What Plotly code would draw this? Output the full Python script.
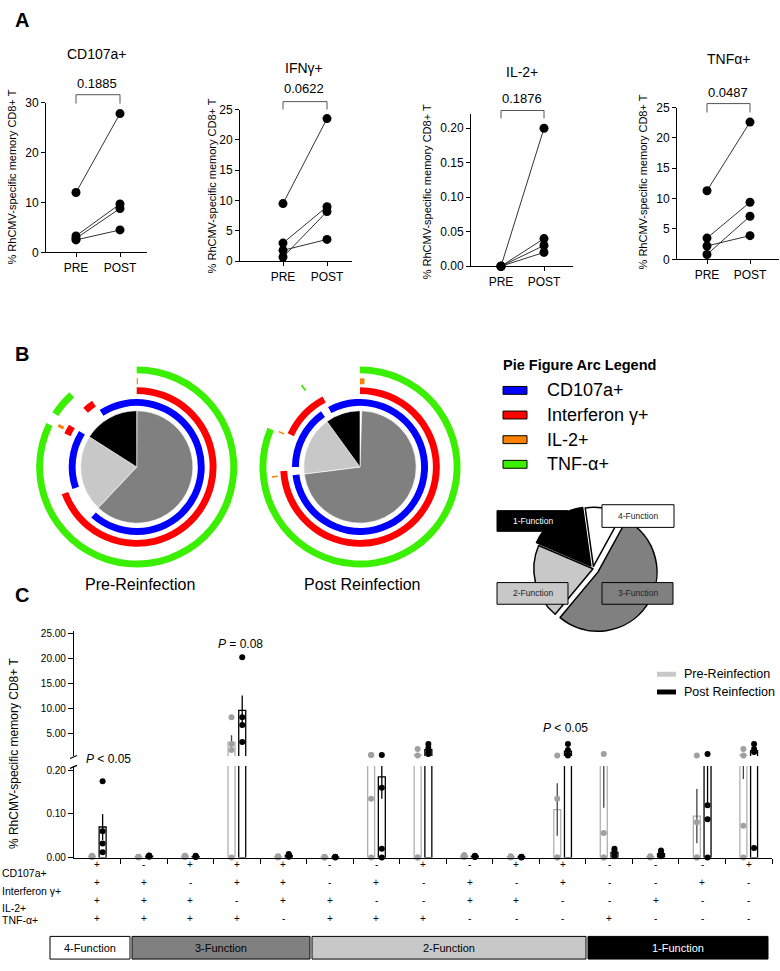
import plotly.graph_objects as go

W, H = 780, 971
FONT = "Arial, Liberation Sans, Helvetica, sans-serif"


def fx(x):
    return x / W


def fy(y):
    return 1 - y / H


# ---------------- Panel A data ----------------
a_titles = ["CD107a+", "IFNγ+", "IL-2+", "TNFα+"]
a_pvals = ["0.1885", "0.0622", "0.1876", "0.0487"]
a_xlabels = ["PRE", "POST"]
cd107a_pre = [12.0, 3.3, 2.8, 2.5]
cd107a_post = [27.8, 9.7, 8.8, 4.5]
ifng_pre = [9.5, 3.0, 0.7, 1.8]
ifng_post = [23.5, 9.0, 8.2, 3.6]
il2_pre = [0.0, 0.0, 0.0, 0.0]
il2_post = [0.20, 0.04, 0.03, 0.02]
tnfa_pre = [11.3, 3.5, 0.8, 2.2]
tnfa_post = [22.6, 9.4, 7.1, 3.9]
a_yticks = [[0, 10, 20, 30], [0, 5, 10, 15, 20, 25],
            [0, 0.05, 0.10, 0.15, 0.20], [0, 5, 10, 15, 20, 25]]
a_yranges = [[0, 30], [0, 25], [0, 0.22], [0, 25]]
a_ytitle = "% RhCMV-specific memory CD8+ T"

# ---------------- Panel B data ----------------
pie_slices = ["4-Function", "3-Function", "2-Function", "1-Function"]
pre_pie_pct = [0.1, 62, 22, 16]
post_pie_pct = [0.5, 72.5, 17, 10]
arc_markers = ["CD107a+", "Interferon γ+", "IL-2+", "TNF-α+"]
# arc segments (start, end) in degrees clockwise from 12 o'clock
pre_arcs = {
    "CD107a+": [(327, 582), (251, 302)],
    "Interferon γ+": [(0, 250), (295, 302), (318, 326)],
    "IL-2+": [(0, 0.8), (297, 299)],
    "TNF-α+": [(0, 296), (303, 318)],
}
post_arcs = {
    "CD107a+": [(332, 623), (270, 325)],
    "Interferon γ+": [(0, 267), (295, 332)],
    "IL-2+": [(0, 3), (263, 264), (293, 294)],
    "TNF-α+": [(0, 293), (324, 325)],
}
inset_labels = ["4-Function", "3-Function", "2-Function", "1-Function"]
inset_values = [10, 52, 20, 16]

# ---------------- Panel C data ----------------
c_cd107a = ['+', '-', '+', '+', '+', '-', '-', '+', '-', '+', '+', '-', '-', '-', '+']
c_ifng = ['+', '+', '-', '+', '+', '-', '+', '-', '+', '-', '+', '-', '-', '+', '-']
c_il2 = ['+', '+', '+', '-', '+', '+', '-', '-', '+', '+', '-', '-', '+', '-', '-']
c_tnfa = ['+', '+', '+', '+', '-', '+', '+', '+', '-', '-', '-', '+', '-', '-', '-']
c_rows = ["CD107a+", "Interferon γ+", "IL-2+", "TNF-α+"]
c_pre_mean = [0.003, 0.001, 0.003, 3.15, 0.002, 0.001, 0.33, 0.58, 0.004, 0.002,
              0.11, 0.214, 0.002, 0.095, 0.59]
c_pre_sem = [0.001, 0.0005, 0.001, 1.4, 0.001, 0.0005, 0.1, 0.3, 0.001, 0.001,
             0.06, 0.1, 0.001, 0.062, 0.41]
c_post_mean = [0.07, 0.003, 0.002, 9.55, 0.005, 0.001, 0.185, 1.7, 0.003, 0.001,
               1.4, 0.012, 0.009, 0.25, 1.46]
c_post_sem = [0.03, 0.001, 0.001, 3.0, 0.001, 0.0005, 0.05, 0.45, 0.001, 0.0005,
              0.55, 0.004, 0.003, 0.13, 0.6]
c_pre_pts = [
    [0.004, 0.003, 0.002, 0.001],
    [0.002, 0.001, 0.001, 0.0],
    [0.004, 0.003, 0.002, 0.001],
    [8.2, 2.8, 1.6, 0.0],
    [0.003, 0.002, 0.001, 0.0],
    [0.002, 0.001, 0.0, 0.0],
    [0.6, 0.6, 0.135, 0.0],
    [1.8, 0.5, 0.0, 0.0],
    [0.006, 0.004, 0.002, 0.001],
    [0.003, 0.002, 0.001, 0.0],
    [0.5, 0.135, 0.0, 0.0],
    [0.8, 0.056, 0.0, 0.0],
    [0.003, 0.002, 0.001, 0.0],
    [0.5, 0.081, 0.0, 0.0],
    [1.8, 0.5, 0.073, 0.0],
]
c_post_pts = [
    [0.175, 0.06, 0.032, 0.012],
    [0.005, 0.004, 0.003, 0.002],
    [0.004, 0.003, 0.002, 0.001],
    [20.2, 8.2, 6.6, 3.2],
    [0.008, 0.006, 0.004, 0.002],
    [0.002, 0.001, 0.001, 0.0],
    [0.6, 0.16, 0.02, 0.0],
    [2.8, 2.0, 1.2, 0.8],
    [0.004, 0.003, 0.002, 0.001],
    [0.002, 0.001, 0.001, 0.0],
    [2.8, 1.6, 0.8, 0.5],
    [0.02, 0.015, 0.01, 0.003],
    [0.016, 0.01, 0.006, 0.003],
    [0.8, 0.12, 0.088, 0.0],
    [2.8, 1.8, 1.2, 0.022],
]
c_upper_ticks = [5, 10, 15, 20, 25]
c_lower_ticks = [0, 0.1, 0.2]
c_groups = ["4-Function", "3-Function", "2-Function", "1-Function"]
c_pvals = ["<i>P</i> < 0.05", "<i>P</i> = 0.08", "<i>P</i> < 0.05"]

# ---------------- style constants ----------------
BLUE, RED, ORANGE, GREEN = "#0000ff", "#ff0000", "#ff8000", "#3af000"
arc_colors = {"CD107a+": BLUE, "Interferon γ+": RED, "IL-2+": ORANGE, "TNF-α+": GREEN}
arc_radii = {"CD107a+": (62, 69), "Interferon γ+": (74, 81), "IL-2+": (84, 90), "TNF-α+": (95, 102)}
slice_colors = {"4-Function": "#ffffff", "3-Function": "#808080", "2-Function": "#c8c8c8", "1-Function": "#000000"}
PIE_R = 57

fig = go.Figure()
annotations = []
shapes = []


def ann(text, x, y, size, color="black", xanchor="center", yanchor="middle", **kw):
    return dict(text=text, x=fx(x), y=fy(y), xref="paper", yref="paper", showarrow=False,
                font=dict(size=size, family=FONT, color=color), xanchor=xanchor,
                yanchor=yanchor, **kw)


# ---------------- Panel A ----------------
a_pre = [cd107a_pre, ifng_pre, il2_pre, tnfa_pre]
a_post = [cd107a_post, ifng_post, il2_post, tnfa_post]
a_geom = [
    dict(xd=(46, 147), yd=(97, 249), pre=76, post=120, tx=97, ty=48, py_=78, br=(89, 98), yt=(12, 173)),
    dict(xd=(240, 352), yd=(104, 258), pre=283, post=327, tx=304, ty=62, py_=83, br=(96, 104), yt=(212, 181)),
    dict(xd=(471, 573), yd=(109, 263), pre=501, post=544, tx=522, ty=66, py_=93, br=(105, 113), yt=(427, 188)),
    dict(xd=(677, 779), yd=(102, 256), pre=707, post=750, tx=728, ty=53, py_=87, br=(98, 107), yt=(643, 178)),
]
for i in range(4):
    g = a_geom[i]
    xa = "x" if i == 0 else f"x{i+1}"
    ya = "y" if i == 0 else f"y{i+1}"
    for pv, po in zip(a_pre[i], a_post[i]):
        fig.add_trace(go.Scatter(x=[0, 1], y=[pv, po], mode="lines+markers",
                                 line=dict(color="#333333", width=1),
                                 marker=dict(color="black", size=9),
                                 xaxis=xa, yaxis=ya, cliponaxis=False,
                                 showlegend=False, hoverinfo="skip"))
    unit = g["post"] - g["pre"]
    r0 = -(g["pre"] - g["xd"][0]) / unit
    r1 = r0 + (g["xd"][1] - g["xd"][0]) / unit
    key = "" if i == 0 else str(i + 1)
    fig.layout["xaxis" + key] = dict(domain=[fx(g["xd"][0]), fx(g["xd"][1])], range=[r0, r1],
                                     anchor=ya, showline=True, linecolor="black", linewidth=1,
                                     ticks="outside", ticklen=4, tickcolor="black",
                                     tickvals=[0, 1], ticktext=a_xlabels,
                                     tickfont=dict(size=12), showgrid=False, zeroline=False)
    fig.layout["yaxis" + key] = dict(domain=[fy(g["yd"][1]), fy(g["yd"][0])], range=a_yranges[i],
                                     anchor=xa, showline=True, linecolor="black", linewidth=1,
                                     ticks="outside", ticklen=4, tickcolor="black",
                                     tickvals=a_yticks[i],
                                     tickformat=".2f" if i == 2 else "d",
                                     tickfont=dict(size=12), showgrid=False, zeroline=False)
    annotations.append(ann(a_titles[i], g["tx"], g["ty"], 14))
    annotations.append(ann(a_pvals[i], g["tx"], g["py_"], 13))
    annotations.append(ann(a_ytitle, g["yt"][0], g["yt"][1], 11, textangle=-90))
    top, bot = fy(g["br"][0]), fy(g["br"][1])
    shapes.append(dict(type="path", xref=xa, yref="paper",
                       path=f"M 0 {bot} L 0 {top} L 1 {top} L 1 {bot}",
                       line=dict(color="#555555", width=1)))

annotations.append(ann("<b>A</b>", 22, 13, 20))

# ---------------- Panel B ----------------
def pie_traces(pcts, arcs, subplot):
    out = []
    total = sum(pcts)
    start = 0.0
    th, wd, cols = [], [], []
    for name, p in zip(pie_slices, pcts):
        span = p / total * 360
        th.append(start + span / 2)
        wd.append(span)
        cols.append(slice_colors[name])
        start += span
    out.append(go.Barpolar(theta=th, width=wd, r=[PIE_R] * len(th), base=[0] * len(th),
                           marker=dict(color=cols, line=dict(color="white", width=0.6)),
                           subplot=subplot, showlegend=False, hoverinfo="skip"))
    for m in arc_markers:
        segs = arcs[m]
        rin, rout = arc_radii[m]
        out.append(go.Barpolar(theta=[((a + b) / 2) % 360 for a, b in segs],
                               width=[b - a for a, b in segs],
                               r=[rout - rin] * len(segs), base=[rin] * len(segs),
                               marker=dict(color=arc_colors[m], line=dict(width=0)),
                               subplot=subplot, showlegend=False, hoverinfo="skip"))
    return out


for t in pie_traces(pre_pie_pct, pre_arcs, "polar"):
    fig.add_trace(t)
for t in pie_traces(post_pie_pct, post_arcs, "polar2"):
    fig.add_trace(t)

RMAX = 104
for key, cx, cy in [("polar", 136.7, 466.7), ("polar2", 360, 466.7)]:
    fig.layout[key] = dict(domain=dict(x=[fx(cx - RMAX), fx(cx + RMAX)], y=[fy(cy + RMAX), fy(cy - RMAX)]),
                           bgcolor="rgba(0,0,0,0)", bargap=0, barmode="overlay",
                           radialaxis=dict(visible=False, range=[0, RMAX]),
                           angularaxis=dict(visible=False, direction="clockwise", rotation=90))

annotations.append(ann("<b>B</b>", 22, 352, 20))
annotations.append(ann("Pre-Reinfection", 140, 586, 16))
annotations.append(ann("Post Reinfection", 362, 586, 16))

# arc legend
annotations.append(ann("<b>Pie Figure Arc Legend</b>", 501, 363, 14.5, xanchor="left"))
for k, m in enumerate(arc_markers):
    yy = 389 + k * 25
    shapes.append(dict(type="rect", xref="paper", yref="paper", x0=fx(503), x1=fx(527),
                       y0=fy(yy + 4), y1=fy(yy - 4), fillcolor=arc_colors[m],
                       line=dict(color="black", width=1)))
    annotations.append(ann(m, 545, yy, 18, xanchor="left"))

# inset pie
fig.add_trace(go.Pie(values=inset_values, labels=inset_labels, sort=False, direction="clockwise",
                     rotation=-8, pull=[0.04, 0.1, 0, 0.06],
                     marker=dict(colors=[slice_colors[n] for n in inset_labels],
                                 line=dict(color="black", width=1.5)),
                     textinfo="none", hoverinfo="skip", showlegend=False,
                     domain=dict(x=[fx(527), fx(659)], y=[fy(636), fy(504)])))
inset_boxes = {"1-Function": (497, 568, 511, 532), "4-Function": (602, 674, 505, 528),
               "2-Function": (497, 568, 584, 606), "3-Function": (602, 673, 584, 606)}
for n in inset_labels:
    x0, x1, y0, y1 = inset_boxes[n]
    shapes.append(dict(type="rect", xref="paper", yref="paper", x0=fx(x0), x1=fx(x1),
                       y0=fy(y1), y1=fy(y0), fillcolor=slice_colors[n],
                       line=dict(color="black", width=1)))
    annotations.append(ann(n, (x0 + x1) / 2, (y0 + y1) / 2, 8.5,
                           color="white" if n == "1-Function" else "#222222"))

# ---------------- Panel C ----------------
ncat = len(c_cd107a)
idx = list(range(ncat))
OFF, BW = 0.115, 0.15
for xa, ya, lo, hi in [("x5", "y5", -1, 0.21), ("x6", "y6", 0.4, 1e9)]:
    fig.add_trace(go.Bar(x=[i - OFF for i in idx], y=c_pre_mean, width=BW,
                         marker=dict(color="rgba(0,0,0,0)", line=dict(color="#b0b0b0", width=1.3)),
                         error_y=dict(type="data", array=c_pre_sem, color="#444444", thickness=1.3, width=0),
                         xaxis=xa, yaxis=ya, showlegend=False, hoverinfo="skip"))
    fig.add_trace(go.Bar(x=[i + OFF for i in idx], y=c_post_mean, width=BW,
                         marker=dict(color="rgba(0,0,0,0)", line=dict(color="black", width=1.3)),
                         error_y=dict(type="data", array=c_post_sem, color="black", thickness=1.3, width=0),
                         xaxis=xa, yaxis=ya, showlegend=False, hoverinfo="skip"))
    for pts, off, col in [(c_pre_pts, -OFF, "#a0a0a0"), (c_post_pts, OFF, "black")]:
        xs, ys = [], []
        for i, row in enumerate(pts):
            for v in row:
                if lo <= v <= hi:
                    xs.append(i + off)
                    ys.append(v)
        fig.add_trace(go.Scatter(x=xs, y=ys, mode="markers", marker=dict(color=col, size=6),
                                 xaxis=xa, yaxis=ya, cliponaxis=False, showlegend=False,
                                 hoverinfo="skip"))

CX0, CX1 = 74, 772
fig.layout["xaxis5"] = dict(domain=[fx(CX0), fx(CX1)], range=[-0.5, ncat - 0.5], anchor="y5",
                            showline=True, linecolor="black", linewidth=1.2, ticks="outside",
                            ticklen=5, tickcolor="black", tickvals=[i + 0.5 for i in idx],
                            showticklabels=False, showgrid=False, zeroline=False)
fig.layout["xaxis6"] = dict(domain=[fx(CX0), fx(CX1)], range=[-0.5, ncat - 0.5], anchor="y6",
                            matches="x5", visible=False)
fig.layout["yaxis5"] = dict(domain=[fy(863), fy(770)], range=[0, 0.21], anchor="x5",
                            showline=True, linecolor="black", linewidth=1.2, ticks="outside",
                            ticklen=5, tickcolor="black", tickvals=c_lower_ticks, tickformat=".2f",
                            tickfont=dict(size=10), showgrid=False, zeroline=False)
fig.layout["yaxis6"] = dict(domain=[fy(760), fy(633)], range=[0.4, 25.5], anchor="x6",
                            showline=True, linecolor="black", linewidth=1.2, ticks="outside",
                            ticklen=5, tickcolor="black", tickvals=c_upper_ticks, tickformat=".2f",
                            tickfont=dict(size=10), showgrid=False, zeroline=False)

# axis break marks
for yy in (761, 771):
    shapes.append(dict(type="line", xref="paper", yref="paper", x0=fx(CX0 - 4), y0=fy(yy + 1.5),
                       x1=fx(CX0 + 3), y1=fy(yy - 1.5), line=dict(color="black", width=1.2)))

annotations.append(ann("<b>C</b>", 22, 597, 20))
annotations.append(ann(a_ytitle, 14, 758, 12, textangle=-90))
annotations.append(ann(c_pvals[0], 108, 763, 12))
annotations.append(ann(c_pvals[1], 240, 646, 12))
annotations.append(ann(c_pvals[2], 565, 732, 12))

# C legend
for k, (lab, col) in enumerate([("Pre-Reinfection", "#c8c8c8"), ("Post Reinfection", "black")]):
    yy = 677 + k * 18
    shapes.append(dict(type="rect", xref="paper", yref="paper", x0=fx(657), x1=fx(676),
                       y0=fy(yy + 2.5), y1=fy(yy - 2.5), fillcolor=col, line=dict(width=0)))
    annotations.append(ann(lab, 682, yy, 12.5, xanchor="left"))

# sign rows
row_signs = [c_cd107a, c_ifng, c_il2, c_tnfa]
row_label_y = [879, 897, 914, 926]
row_sign_y = [878, 896, 914, 932]
for r, lab in enumerate(c_rows):
    annotations.append(ann(lab, 0, row_label_y[r], 10.5, xanchor="left"))
    for i, s in enumerate(row_signs[r]):
        annotations.append(dict(text=s, x=i, y=fy(row_sign_y[r]), xref="x5", yref="paper",
                                showarrow=False, font=dict(size=10, family=FONT, color="black")))

# function group boxes
group_boxes = [(50, 130), (132, 310), (312, 586), (588, 768)]
for n, (x0, x1) in zip(c_groups, group_boxes):
    shapes.append(dict(type="rect", xref="paper", yref="paper", x0=fx(x0), x1=fx(x1),
                       y0=fy(966), y1=fy(943), fillcolor=slice_colors[n],
                       line=dict(color="black", width=1)))
    annotations.append(ann(n, (x0 + x1) / 2, 954.5, 11,
                           color="white" if n == "1-Function" else "black"))

fig.update_layout(width=W, height=H, margin=dict(l=0, r=0, t=0, b=0),
                  paper_bgcolor="white", plot_bgcolor="rgba(0,0,0,0)",
                  showlegend=False, barmode="overlay",
                  font=dict(family=FONT, color="black"),
                  annotations=annotations, shapes=shapes)

fig.write_html("out.html", config={"displayModeBar": False},
               post_script="document.body.style.margin='0px';")
